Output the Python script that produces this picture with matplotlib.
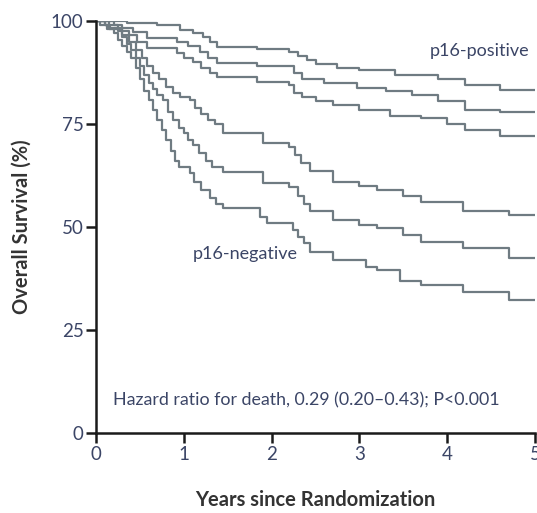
import matplotlib
matplotlib.use("Agg")
import matplotlib.pyplot as plt

# Kaplan-Meier style curves (years, % survival)
pos_upper_t = [0, 0.35, 0.7, 0.96, 1.1, 1.22, 1.3, 1.38, 1.83, 2.2, 2.3, 2.4, 2.5, 2.75, 3.0, 3.4, 3.9, 4.2, 4.6, 5]
pos_upper_s = [100, 99.6, 99, 97.8, 97, 96, 95, 93.7, 93.2, 92.5, 91.5, 90.5, 89.5, 88.5, 88, 87, 86, 84.5, 83.2, 83.2]

pos_mid_t = [0, 0.1, 0.16, 0.42, 0.58, 0.92, 1.05, 1.18, 1.28, 1.38, 1.83, 2.25, 2.35, 2.6, 2.97, 3.3, 3.6,
             3.9, 4.2, 4.6, 5]
pos_mid_s = [100, 99, 98.2, 97.3, 95.9, 95, 94, 92.5, 91, 89.8, 89, 87.5, 86, 85, 83.7, 83, 82,
             80.5, 78.5, 78, 78]

pos_low_t = [0, 0.05, 0.12, 0.3, 0.47, 0.58, 0.92, 1.0, 1.1, 1.2, 1.3, 1.38, 1.83, 2.2, 2.25, 2.35, 2.5,
             2.7, 3.0, 3.35, 3.7, 4.0, 4.2, 4.6, 5]
pos_low_s = [100, 99, 98, 96.6, 95, 93.4, 92.2, 91, 90, 88.5, 87.5, 86.4, 85.2, 84.5, 82.5, 81.6, 80.5,
             79.5, 78.5, 77, 76.4, 75, 73.5, 72.2, 72.2]

neg_upper_t = [0, 0.2, 0.3, 0.38, 0.45, 0.52, 0.58, 0.65, 0.72, 0.8, 0.88, 0.96, 1.07, 1.13, 1.2, 1.28,
               1.35, 1.45, 1.9, 2.2, 2.27, 2.33, 2.44, 2.7, 3.0, 3.2, 3.5, 3.7, 4.18, 4.7, 5]
neg_upper_s = [100, 99, 97.5, 95, 93, 91, 89, 87.5, 86, 84, 82.5, 81.5, 80.8, 79, 77.5, 76,
               75, 72.8, 70.4, 69.4, 67.5, 65.5, 63.5, 61, 60, 59, 57.5, 56, 54, 53, 53]

neg_mid_t = [0, 0.15, 0.25, 0.3, 0.35, 0.4, 0.45, 0.5, 0.55, 0.6, 0.65, 0.7, 0.76, 0.82, 0.88, 0.94, 1.0,
             1.05, 1.1, 1.17, 1.25, 1.32, 1.45, 1.9, 2.2, 2.3, 2.37, 2.44, 2.7, 3.0, 3.2, 3.5, 3.7, 4.18,
             4.7, 5]
neg_mid_s = [100, 99, 97.5, 96, 94.5, 93, 91, 89, 87, 85, 83.5, 82, 80.8, 78, 76, 74, 72.8,
             71, 70, 68, 66, 64.5, 63.3, 60.7, 59.7, 57.5, 55.5, 54, 51.7, 50.5, 49.7, 48, 46.4, 44.9,
             42.5, 42.5]

neg_low_t = [0, 0.1, 0.15, 0.2, 0.25, 0.3, 0.35, 0.4, 0.45, 0.5, 0.55, 0.6, 0.65, 0.7, 0.75, 0.8, 0.85,
             0.9, 0.95, 1.07, 1.12, 1.2, 1.3, 1.37, 1.45, 1.87, 1.95, 2.24, 2.3, 2.37, 2.44, 2.7, 3.08,
             3.2, 3.46, 3.7, 4.18, 4.7, 5]
neg_low_s = [100, 99, 98, 97, 95.5, 94, 92.5, 91, 88.5, 86, 83, 80.8, 78.5, 76, 73.5, 71, 68.5,
             66, 64.5, 63, 61, 59, 57, 55.5, 54.6, 52.4, 51, 49.3, 47.5, 46, 44, 42, 40.3,
             39.5, 37, 36, 34.2, 32.3, 32.3]

x_ticks = [0, 1, 2, 3, 4, 5]
y_ticks = [0, 25, 50, 75, 100]

plt.rcParams["font.family"] = ["Lato", "DejaVu Sans"]

line_col = "#6f7b82"
txt_col = "#3b4566"

fig = plt.figure(figsize=(5.37, 5.13), dpi=100)
ax = fig.add_axes([96 / 537, 80 / 513, 439 / 537, 412 / 513])

for t, s in [(pos_upper_t, pos_upper_s), (pos_mid_t, pos_mid_s), (pos_low_t, pos_low_s),
             (neg_upper_t, neg_upper_s), (neg_mid_t, neg_mid_s), (neg_low_t, neg_low_s)]:
    ax.step(t, s, where="post", color=line_col, lw=1.6)

ax.set_xlim(0, 5)
ax.set_ylim(0, 100)
ax.set_xticks(x_ticks)
ax.set_yticks(y_ticks)
ax.spines["top"].set_visible(False)
ax.spines["right"].set_visible(False)
for sp in ["left", "bottom"]:
    ax.spines[sp].set_linewidth(1.8)
    ax.spines[sp].set_color("#1a1a1a")
ax.tick_params(direction="out", length=7, width=1.8, color="#1a1a1a",
               labelsize=13.5, labelcolor=txt_col, pad=2)

ax.set_ylabel("Overall Survival (%)", fontsize=14.5, fontweight="bold", color="#333333",
              labelpad=14)
ax.set_xlabel("Years since Randomization", fontsize=14.5, fontweight="bold", color="#333333",
              labelpad=20)

ax.text(3.8, 92.7, "p16-positive", fontsize=13, color=txt_col, ha="left", va="center")
ax.text(1.1, 43.5, "p16-negative", fontsize=13, color=txt_col, ha="left", va="center")
ax.text(0.19, 8, "Hazard ratio for death, 0.29 (0.20\u20130.43); P<0.001",
        fontsize=12.8, color=txt_col, ha="left", va="center")

fig.savefig("out.png", dpi=100)
